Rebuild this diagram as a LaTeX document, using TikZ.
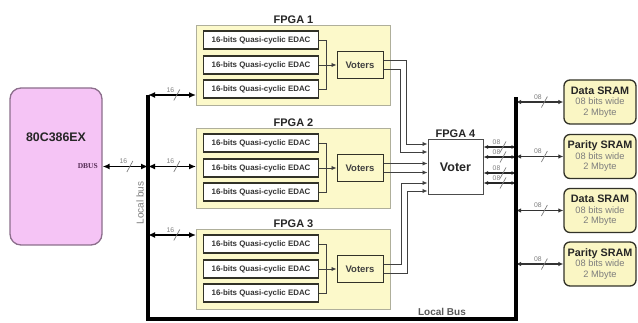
\documentclass[tikz,border=0pt]{standalone}
\usepackage{fontspec}
\setmainfont{Liberation Sans}
\newfontfamily\dbusfont{Liberation Serif}
\usetikzlibrary{arrows.meta,calc}
\definecolor{pinkfill}{RGB}{245,196,245}
\definecolor{pinkdraw}{RGB}{140,110,140}
\definecolor{fpgafill}{RGB}{252,249,202}
\definecolor{fpgadraw}{RGB}{175,175,155}
\definecolor{sramfill}{RGB}{250,246,196}
\definecolor{boxdraw}{RGB}{50,50,40}
\definecolor{lblgray}{RGB}{125,125,125}
\definecolor{dbuscol}{RGB}{85,45,85}
\newcommand\sramtitle[1]{{\fontsize{10.8}{11}\selectfont\bfseries\color{black!85}#1}}
\newcommand\bitmark[4]{%
  \coordinate (#1) at ($(#2)!0.6!(#3)$);
  \draw[slashline] ($(#1)+(-3,5.5)$) -- ($(#1)+(3,-5.5)$);
  \node[bitlbl] (#1-l) at ($(#1)+(-6.5,-5)$) {#4};}
\begin{document}
\begin{tikzpicture}[x=1pt,y=-1pt,
  cpu/.style={draw=pinkdraw, fill=pinkfill, line width=1.3pt, rounded corners=11pt, minimum width=92pt, minimum height=157pt, inner sep=0},
  cpulbl/.style={font=\fontsize{12.4}{13}\selectfont\bfseries, text=black!85, inner sep=0},
  dbus/.style={font=\dbusfont\fontsize{7.5}{8}\selectfont\bfseries, text=dbuscol, inner sep=0},
  fpga/.style={draw=fpgadraw, fill=fpgafill, line width=1pt, minimum width=194pt, minimum height=80pt, inner sep=0, anchor=north west},
  edac/.style={draw=boxdraw, fill=white, line width=1.1pt, minimum width=115pt, minimum height=18pt, inner sep=0, font=\fontsize{7.9}{8}\selectfont\bfseries, text=black!80, anchor=west},
  voters/.style={draw=boxdraw, fill=fpgafill, line width=1pt, minimum width=46pt, minimum height=27pt, inner sep=0, font=\fontsize{9.5}{10}\selectfont\bfseries, text=black!75},
  fpgalbl/.style={font=\fontsize{11}{12}\selectfont\bfseries, text=black!85, anchor=south, inner sep=1.5pt},
  f4box/.style={draw=black!70, fill=white, line width=1pt, minimum width=55pt, minimum height=55pt, inner sep=0, font=\fontsize{12.5}{13}\selectfont\bfseries, text=black!85},
  sram/.style={draw=boxdraw, fill=sramfill, line width=1.3pt, rounded corners=6pt, minimum width=72pt, minimum height=44pt, align=center, inner sep=0, font=\fontsize{9.3}{10.5}\selectfont, text=lblgray},
  bus/.style={line width=3.2pt, black, line join=miter},
  busarrow/.style={line width=1.9pt, black, {Latex[length=7pt,width=6pt]}-{Latex[length=7pt,width=6pt]}},
  outarrow/.style={line width=1.2pt, black!85, {Latex[length=4.5pt,width=4pt]}-{Latex[length=4.5pt,width=4pt]}},
  sramarrow/.style={line width=1.3pt, black!80, {Latex[length=5pt,width=4.5pt]}-{Latex[length=5pt,width=4.5pt]}},
  sig/.style={line width=0.9pt, draw=black!75},
  sigarrow/.style={sig, -{Latex[length=5pt,width=4.5pt]}},
  slashline/.style={lblgray, line width=0.7pt},
  bitlbl/.style={text=lblgray, font=\fontsize{6.8}{7}\selectfont, inner sep=0},
  vlbl/.style={text=lblgray, font=\fontsize{10}{11}\selectfont, rotate=90, inner sep=0},
  buslbl/.style={text=black!65, font=\fontsize{10}{11}\selectfont\bfseries, inner sep=0}
]
\useasboundingbox (0,0) rectangle (638,323);

% CPU
\node[cpu] (cpu) at (56,166.5) {};
\node[cpulbl] (cpuname) at (56,137) {80C386EX};
\node[dbus, anchor=east] (dbus) at (98,166.5) {DBUS};

% bus coordinates
\coordinate (busTL) at (148,95);
\coordinate (jL) at (148,166.5);
\coordinate (j3) at (148,235);
\coordinate (busBL) at (148,319);
\coordinate (busBR) at (516,319);
\coordinate (busTR) at (516,97);

% FPGA boxes
\node[fpga] (f1) at (196,25) {};
\node[fpga] (f2) at (196,128) {};
\node[fpga] (f3) at (196,229) {};
\node[fpgalbl] (f1l) at (f1.north) {FPGA 1};
\node[fpgalbl] (f2l) at (f2.north) {FPGA 2};
\node[fpgalbl] (f3l) at (f3.north) {FPGA 3};

% EDAC rows
\foreach \i/\t in {1/25,2/128,3/229}{
  \node[edac] (e\i1) at (203,\t+15) {16-bits Quasi-cyclic EDAC};
  \node[edac] (e\i2) at (203,\t+40) {16-bits Quasi-cyclic EDAC};
  \node[edac] (e\i3) at (203,\t+64) {16-bits Quasi-cyclic EDAC};
  \node[voters] (v\i) at (360,\t+40) {Voters};
  \draw[sig] (e\i1.east) -- ++(7,0) |- (e\i3.east);
  \draw[sigarrow] (e\i2.east) -- (v\i.west);
}

% FPGA 4
\node[f4box] (f4) at (455.5,167.5) {Voter};
\node[fpgalbl] (f4l) at (f4.north) {FPGA 4};

% voter outputs to FPGA 4
\draw[sigarrow] ($(v1.east)+(0,-4.5)$) -| (406,144) -- (f4.west |- 0,144);
\draw[sigarrow] ($(v1.east)+(0,4.5)$) -| (400,152) -- (f4.west |- 0,152);
\draw[sigarrow] ($(v2.east)+(0,-4.5)$) -- ($(f4.west |- v2.east)+(0,-4.5)$);
\draw[sigarrow] ($(v2.east)+(0,4.5)$) -- ($(f4.west |- v2.east)+(0,4.5)$);
\draw[sigarrow] ($(v3.east)+(0,-4.5)$) -| (401,183) -- (f4.west |- 0,183);
\draw[sigarrow] ($(v3.east)+(0,4.5)$) -| (407,191) -- (f4.west |- 0,191);

% SRAMs
\node[sram] (d1) at (600,102) {\sramtitle{Data SRAM}\\08 bits wide\\2 Mbyte};
\node[sram] (p1) at (600,156.5) {\sramtitle{Parity SRAM}\\08 bits wide\\2 Mbyte};
\node[sram] (d2) at (600,210.5) {\sramtitle{Data SRAM}\\08 bits wide\\2 Mbyte};
\node[sram] (p2) at (600,264) {\sramtitle{Parity SRAM}\\08 bits wide\\2 Mbyte};

% bus arrows (left)
\draw[busarrow] (cpu.east) -- (jL);
\draw[busarrow] (busTL) -- (f1.west |- busTL);
\draw[busarrow] (jL) -- (f2.west |- jL);
\draw[busarrow] (j3) -- (f3.west |- j3);
\bitmark{b0}{cpu.east}{jL}{16}
\bitmark{b1}{busTL}{f1.west |- busTL}{16}
\bitmark{b2}{jL}{f2.west |- jL}{16}
\bitmark{b3}{j3}{f3.west |- j3}{16}

% FPGA4 outputs
\foreach \y [count=\k] in {147,157,173,183}{
  \draw[outarrow] (f4.east |- 0,\y) -- (busTR |- 0,\y);
  \bitmark{o\k}{f4.east |- 0,\y}{busTR |- 0,\y}{08}
}

% SRAM arrows
\foreach \s in {d1,p1,d2,p2}{
  \draw[sramarrow] (busTR |- \s.west) -- (\s.west);
  \bitmark{m\s}{busTR |- \s.west}{\s.west}{08}
}

% buses
\draw[bus] (busTL) -- (busBL) -- (busBR) -- (busTR);

\node[vlbl] (lb1) at (140,203) {Local bus};
\node[buslbl] (lb2) at (442,312) {Local Bus};
\end{tikzpicture}
\end{document}
